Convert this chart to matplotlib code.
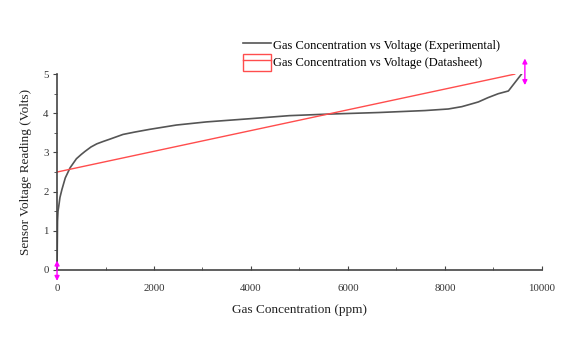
import matplotlib
matplotlib.use("Agg")
import matplotlib.pyplot as plt
from matplotlib.lines import Line2D
from matplotlib.patches import Patch
from matplotlib.legend_handler import HandlerTuple
from matplotlib.ticker import MultipleLocator

plt.rcParams["font.family"] = ["Liberation Serif", "DejaVu Serif"]

# Experimental sensor response (ppm -> volts)
exp_ppm = [0, 5, 10, 20, 35, 60, 100, 170, 270, 400, 500, 580, 700, 820, 950,
           1090, 1360, 1600, 1910, 2460, 3080, 3960, 4790, 5610, 6640, 7590,
           8070, 8350, 8550, 8690, 8890, 9100, 9310, 9580]
exp_volts = [0.0, 0.6, 1.25, 1.5, 1.62, 1.85, 2.05, 2.35, 2.61, 2.84, 2.95,
             3.03, 3.14, 3.22, 3.28, 3.34, 3.46, 3.52, 3.59, 3.70, 3.78, 3.86,
             3.94, 3.98, 4.02, 4.07, 4.11, 4.17, 4.24, 4.29, 4.40, 4.50, 4.57,
             5.00]

# Datasheet linear response
sheet_ppm = [0, 9440]
sheet_volts = [2.5, 5.0]

# Data-reader cursor positions
cursor_ppm = [0, 9650]
cursor_low = [-0.28, 4.72]
cursor_high = [0.24, 5.40]

x_ticks = [0, 2000, 4000, 6000, 8000, 10000]
y_ticks = [0, 1, 2, 3, 4, 5]

fig = plt.figure(figsize=(5.82, 3.37), dpi=100)
ax = fig.add_axes([0.098, 0.199, 0.833, 0.581])

ax.plot(exp_ppm, exp_volts, color="#555555", lw=1.2, solid_joinstyle="round")
ax.plot(sheet_ppm, sheet_volts, color="#ff4d4d", lw=1.0)

for xp, lo, hi in zip(cursor_ppm, cursor_low, cursor_high):
    ax.annotate("", xy=(xp, hi), xytext=(xp, lo),
                arrowprops=dict(arrowstyle="<|-|>", color="#ff00ff", lw=1.0,
                                mutation_scale=7, shrinkA=0, shrinkB=0),
                annotation_clip=False)

ax.set_xlim(0, 10000)
ax.set_ylim(0, 5)
ax.set_xticks(x_ticks)
ax.set_yticks(y_ticks)
ax.xaxis.set_minor_locator(MultipleLocator(1000))
ax.yaxis.set_minor_locator(MultipleLocator(0.5))
for s in ("top", "right"):
    ax.spines[s].set_visible(False)
for s in ("left", "bottom"):
    ax.spines[s].set_color("#444444")
    ax.spines[s].set_linewidth(1.2)
ax.tick_params(which="both", colors="#444444", labelcolor="#333333",
               labelsize=7.8)
ax.tick_params(axis="x", which="both", direction="in", pad=10)
ax.tick_params(axis="y", which="both", direction="out", pad=3)
ax.tick_params(which="major", length=3)
ax.tick_params(which="minor", length=2)

ax.set_xlabel("Gas Concentration (ppm)", fontsize=9.5, color="#222222", labelpad=8)
ax.set_ylabel("Sensor Voltage Reading (Volts)", fontsize=9.5, color="#222222", labelpad=8)

handles = [Line2D([], [], color="#555555", lw=1.2),
           (Patch(facecolor="white", edgecolor="#ff4d4d", lw=1.0),
            Line2D([], [], color="#ff4d4d", lw=1.0))]
labels = ["Gas Concentration vs Voltage (Experimental)",
          "Gas Concentration vs Voltage (Datasheet)"]
fig.legend(handles, labels, loc="upper left", bbox_to_anchor=(0.4175, 0.89),
           frameon=False, fontsize=9, handlelength=2.25, handleheight=1.65,
           handletextpad=0.15, labelspacing=0.05, borderpad=0, borderaxespad=0,
           handler_map={tuple: HandlerTuple(ndivide=1, pad=0)})

fig.savefig("out.png", dpi=100)
